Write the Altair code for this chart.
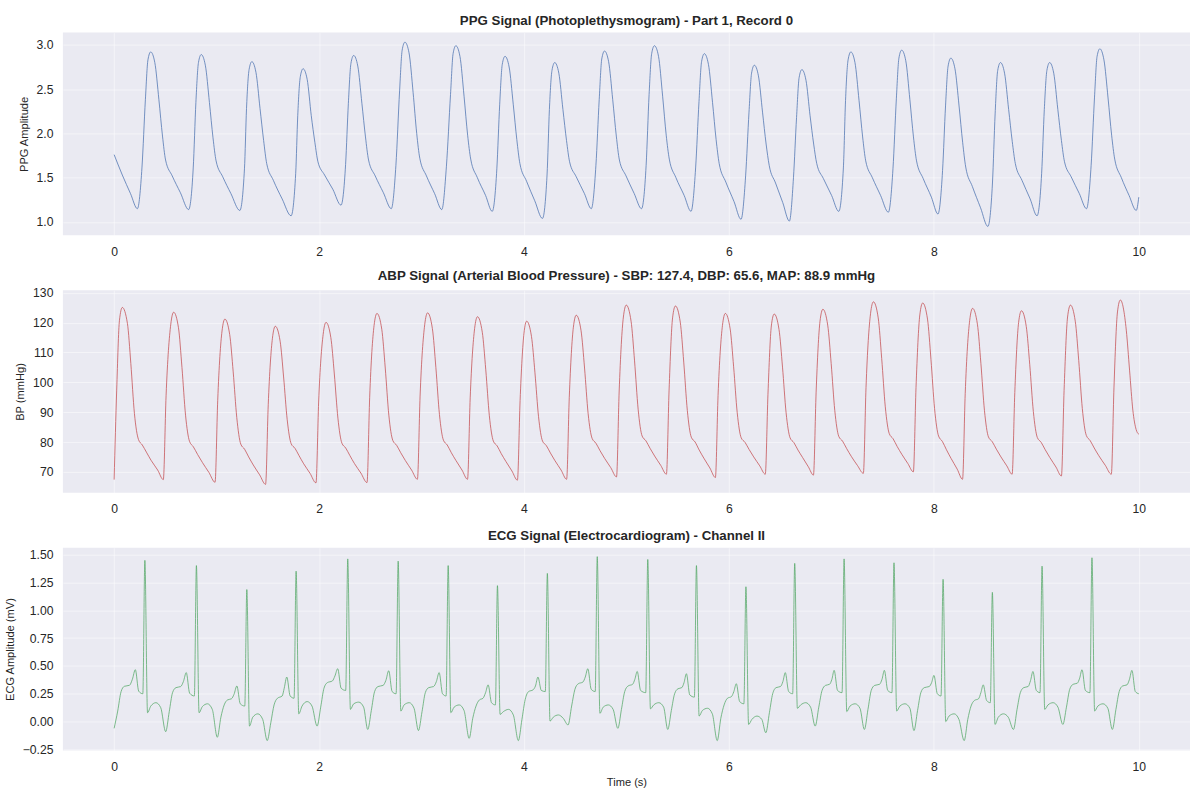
import altair as alt
import pandas as pd

# ---- PPG waveform (time s, amplitude) ----
PPG_POINTS = [
    (0.000, 1.76), (0.080, 1.53), (0.160, 1.32), (0.227, 1.15),
    (0.272, 1.62), (0.305, 2.38), (0.330, 2.83), (0.357, 2.92), (0.397, 2.80), (0.437, 2.38), (0.472, 1.97), (0.502, 1.70), (0.567, 1.52), (0.647, 1.33), (0.727, 1.14),
    (0.772, 1.61), (0.798, 2.35), (0.823, 2.80), (0.850, 2.89), (0.890, 2.77), (0.930, 2.35), (0.965, 1.95), (0.995, 1.69), (1.060, 1.51), (1.140, 1.32), (1.227, 1.13),
    (1.272, 1.60), (1.292, 2.28), (1.317, 2.72), (1.344, 2.81), (1.384, 2.69), (1.424, 2.28), (1.459, 1.92), (1.489, 1.66), (1.554, 1.47), (1.640, 1.26), (1.727, 1.07),
    (1.772, 1.55), (1.792, 2.20), (1.817, 2.64), (1.844, 2.73), (1.884, 2.61), (1.924, 2.20), (1.959, 1.90), (1.989, 1.68), (2.054, 1.53), (2.134, 1.37), (2.214, 1.19),
    (2.259, 1.65), (2.286, 2.34), (2.311, 2.79), (2.338, 2.88), (2.378, 2.76), (2.418, 2.34), (2.453, 1.96), (2.483, 1.70), (2.548, 1.52), (2.628, 1.33), (2.705, 1.15),
    (2.750, 1.64), (2.786, 2.48), (2.811, 2.94), (2.838, 3.03), (2.878, 2.91), (2.918, 2.46), (2.953, 2.00), (2.983, 1.72), (3.048, 1.52), (3.128, 1.32), (3.198, 1.14),
    (3.243, 1.63), (3.283, 2.44), (3.308, 2.90), (3.335, 2.99), (3.375, 2.87), (3.415, 2.42), (3.450, 1.98), (3.480, 1.71), (3.545, 1.50), (3.625, 1.30), (3.690, 1.12),
    (3.735, 1.60), (3.763, 2.33), (3.788, 2.78), (3.815, 2.87), (3.855, 2.75), (3.895, 2.33), (3.930, 1.93), (3.960, 1.66), (4.025, 1.46), (4.105, 1.24), (4.180, 1.04),
    (4.225, 1.53), (4.248, 2.27), (4.273, 2.71), (4.300, 2.80), (4.340, 2.68), (4.380, 2.27), (4.415, 1.92), (4.445, 1.68), (4.510, 1.51), (4.590, 1.32), (4.657, 1.15),
    (4.702, 1.64), (4.734, 2.38), (4.759, 2.84), (4.786, 2.93), (4.826, 2.81), (4.866, 2.38), (4.901, 1.97), (4.931, 1.70), (4.996, 1.52), (5.076, 1.32), (5.147, 1.15),
    (5.192, 1.64), (5.221, 2.44), (5.246, 2.90), (5.273, 2.99), (5.313, 2.87), (5.353, 2.42), (5.388, 1.98), (5.418, 1.71), (5.483, 1.50), (5.563, 1.30), (5.630, 1.12),
    (5.675, 1.61), (5.708, 2.36), (5.733, 2.81), (5.760, 2.90), (5.800, 2.78), (5.840, 2.35), (5.875, 1.93), (5.905, 1.66), (5.970, 1.45), (6.050, 1.23), (6.118, 1.03),
    (6.163, 1.52), (6.196, 2.24), (6.221, 2.68), (6.248, 2.77), (6.288, 2.65), (6.328, 2.24), (6.363, 1.88), (6.393, 1.64), (6.455, 1.44), (6.525, 1.22), (6.590, 1.01),
    (6.630, 1.50), (6.660, 2.18), (6.685, 2.63), (6.712, 2.72), (6.752, 2.60), (6.792, 2.20), (6.827, 1.88), (6.857, 1.66), (6.922, 1.49), (7.002, 1.30), (7.072, 1.12),
    (7.117, 1.61), (7.138, 2.37), (7.163, 2.83), (7.190, 2.92), (7.230, 2.80), (7.270, 2.37), (7.305, 1.96), (7.335, 1.69), (7.400, 1.50), (7.480, 1.30), (7.556, 1.11),
    (7.601, 1.60), (7.634, 2.39), (7.659, 2.85), (7.686, 2.94), (7.726, 2.82), (7.766, 2.38), (7.801, 1.96), (7.831, 1.69), (7.896, 1.49), (7.976, 1.28), (8.040, 1.09),
    (8.085, 1.58), (8.114, 2.31), (8.139, 2.76), (8.166, 2.85), (8.206, 2.73), (8.246, 2.31), (8.281, 1.90), (8.311, 1.62), (8.376, 1.40), (8.456, 1.16), (8.527, 0.95),
    (8.572, 1.44), (8.598, 2.22), (8.623, 2.71), (8.650, 2.80), (8.690, 2.68), (8.730, 2.27), (8.765, 1.91), (8.795, 1.66), (8.860, 1.47), (8.940, 1.26), (9.007, 1.07),
    (9.052, 1.55), (9.078, 2.27), (9.103, 2.71), (9.130, 2.80), (9.170, 2.68), (9.210, 2.27), (9.245, 1.92), (9.275, 1.68), (9.340, 1.51), (9.420, 1.32), (9.490, 1.15),
    (9.535, 1.64), (9.568, 2.41), (9.593, 2.87), (9.620, 2.955), (9.660, 2.83), (9.700, 2.40), (9.735, 1.98), (9.765, 1.71), (9.830, 1.50), (9.905, 1.30), (9.975, 1.13),
    (10.000, 1.28),
]

# ---- Arterial blood pressure (time s, mmHg) ----
ABP_POINTS = [
    (0.000, 67.4), (0.025, 97.4), (0.052, 120.8), (0.080, 125.1), (0.130, 119.7), (0.163, 106.3), (0.198, 89.6), (0.238, 80.8), (0.275, 79.0), (0.315, 76.6), (0.360, 73.9), (0.425, 70.6), (0.480, 67.4),
    (0.507, 95.5), (0.553, 119.5), (0.581, 123.5), (0.628, 118.3), (0.662, 105.0), (0.697, 89.0), (0.736, 80.2), (0.773, 78.4), (0.815, 75.8), (0.862, 73.1), (0.925, 69.8), (0.985, 66.5),
    (1.011, 94.0), (1.053, 117.2), (1.081, 121.2), (1.128, 116.0), (1.162, 103.5), (1.197, 88.2), (1.236, 79.3), (1.273, 77.6), (1.313, 75.0), (1.358, 72.3), (1.420, 69.0), (1.478, 65.8),
    (1.504, 92.5), (1.545, 114.8), (1.573, 118.8), (1.620, 113.8), (1.654, 101.8), (1.689, 87.5), (1.728, 79.4), (1.765, 77.9), (1.805, 75.4), (1.850, 72.7), (1.912, 69.5), (1.970, 66.3),
    (1.996, 93.4), (2.040, 116.1), (2.068, 120.1), (2.115, 115.0), (2.149, 102.8), (2.184, 88.0), (2.223, 79.6), (2.260, 78.0), (2.300, 75.5), (2.345, 72.8), (2.408, 69.6), (2.468, 66.4),
    (2.494, 95.0), (2.537, 119.1), (2.565, 123.1), (2.612, 117.8), (2.646, 104.8), (2.681, 89.0), (2.720, 80.5), (2.757, 78.9), (2.797, 76.4), (2.842, 73.8), (2.903, 70.6), (2.960, 67.5),
    (2.986, 95.4), (3.031, 119.3), (3.059, 123.3), (3.106, 118.0), (3.140, 105.0), (3.175, 89.2), (3.214, 80.6), (3.251, 79.0), (3.291, 76.4), (3.336, 73.8), (3.395, 70.6), (3.449, 67.5),
    (3.475, 94.8), (3.518, 118.0), (3.546, 122.0), (3.593, 116.8), (3.627, 104.2), (3.662, 88.8), (3.701, 80.3), (3.738, 78.7), (3.778, 76.1), (3.823, 73.5), (3.882, 70.3), (3.936, 67.2),
    (3.962, 93.9), (4.000, 116.5), (4.026, 120.5), (4.073, 115.4), (4.107, 103.2), (4.142, 88.5), (4.181, 80.3), (4.218, 78.8), (4.258, 76.3), (4.303, 73.7), (4.362, 70.6), (4.416, 67.5),
    (4.442, 95.0), (4.482, 118.5), (4.510, 122.5), (4.557, 117.3), (4.591, 104.8), (4.626, 89.5), (4.665, 81.2), (4.702, 79.6), (4.742, 77.1), (4.787, 74.5), (4.847, 71.4), (4.903, 68.3),
    (4.929, 97.1), (4.970, 121.9), (4.998, 125.9), (5.045, 120.5), (5.079, 107.2), (5.114, 91.0), (5.153, 82.0), (5.190, 80.4), (5.230, 77.9), (5.275, 75.3), (5.334, 72.2), (5.390, 69.2),
    (5.416, 97.4), (5.450, 121.6), (5.478, 125.6), (5.525, 120.2), (5.559, 106.8), (5.594, 90.6), (5.633, 81.6), (5.670, 80.0), (5.710, 77.3), (5.755, 74.6), (5.814, 71.3), (5.868, 68.1),
    (5.894, 95.6), (5.937, 119.1), (5.965, 123.1), (6.012, 117.9), (6.046, 105.2), (6.081, 89.8), (6.120, 81.4), (6.157, 79.9), (6.197, 77.5), (6.242, 75.0), (6.301, 72.0), (6.355, 69.2),
    (6.381, 96.0), (6.414, 118.9), (6.442, 122.9), (6.489, 117.7), (6.523, 105.1), (6.558, 89.8), (6.597, 81.4), (6.634, 79.8), (6.674, 77.3), (6.719, 74.8), (6.775, 71.7), (6.825, 68.9),
    (6.851, 96.7), (6.889, 120.5), (6.917, 124.5), (6.964, 119.2), (6.998, 106.3), (7.033, 90.6), (7.072, 81.9), (7.109, 80.3), (7.149, 77.8), (7.194, 75.2), (7.255, 72.1), (7.312, 69.5),
    (7.338, 98.3), (7.382, 123.0), (7.410, 127.0), (7.457, 121.6), (7.491, 108.0), (7.526, 91.8), (7.565, 82.8), (7.602, 81.1), (7.642, 78.5), (7.687, 75.9), (7.746, 72.8), (7.800, 70.0),
    (7.826, 98.3), (7.863, 122.6), (7.891, 126.6), (7.938, 121.2), (7.972, 107.6), (8.007, 91.2), (8.046, 82.0), (8.083, 80.2), (8.123, 77.4), (8.168, 74.5), (8.228, 70.9), (8.280, 67.5),
    (8.306, 96.2), (8.350, 120.8), (8.378, 124.8), (8.425, 119.5), (8.459, 106.4), (8.494, 90.5), (8.533, 81.7), (8.570, 80.1), (8.610, 77.6), (8.655, 75.0), (8.712, 72.0), (8.764, 69.2),
    (8.790, 96.6), (8.827, 120.0), (8.855, 124.0), (8.902, 118.7), (8.936, 105.9), (8.971, 90.2), (9.010, 81.5), (9.047, 79.9), (9.087, 77.4), (9.132, 74.8), (9.192, 71.6), (9.245, 68.6),
    (9.271, 97.3), (9.305, 121.9), (9.333, 125.9), (9.380, 120.5), (9.414, 107.3), (9.449, 91.2), (9.488, 82.2), (9.525, 80.5), (9.565, 78.0), (9.610, 75.4), (9.673, 72.2), (9.732, 69.2),
    (9.758, 98.4), (9.792, 123.6), (9.820, 127.6), (9.878, 117.5), (9.910, 104.1), (9.942, 90.7), (9.974, 84.2), (10.000, 82.6),
]

# ---- ECG lead II (time s, mV) ----
ECG_POINTS = [
    (0.000, -0.06), (0.035, 0.095), (0.068, 0.27), (0.100, 0.317), (0.150, 0.326), (0.178, 0.38), (0.207, 0.466), (0.240, 0.273), (0.280, 0.25), (0.300, 1.447), (0.326, 0.08), (0.358, 0.14), (0.408, 0.17), (0.455, 0.125), (0.503, -0.09),
    (0.538, 0.09), (0.570, 0.26), (0.603, 0.305), (0.650, 0.315), (0.676, 0.36), (0.704, 0.44), (0.737, 0.255), (0.783, 0.23), (0.803, 1.40), (0.829, 0.08), (0.861, 0.135), (0.911, 0.16), (0.958, 0.11), (1.007, -0.14),
    (1.042, 0.04), (1.074, 0.15), (1.107, 0.195), (1.145, 0.205), (1.170, 0.245), (1.198, 0.32), (1.231, 0.16), (1.275, 0.14), (1.295, 1.185), (1.321, -0.04), (1.353, 0.04), (1.403, 0.07), (1.450, 0.02), (1.494, -0.17),
    (1.529, -0.01), (1.561, 0.15), (1.594, 0.21), (1.640, 0.23), (1.660, 0.30), (1.685, 0.40), (1.718, 0.23), (1.756, 0.21), (1.776, 1.35), (1.802, 0.07), (1.834, 0.14), (1.884, 0.18), (1.931, 0.14), (1.981, -0.04),
    (2.016, 0.13), (2.048, 0.30), (2.081, 0.35), (2.130, 0.365), (2.155, 0.41), (2.182, 0.475), (2.215, 0.30), (2.260, 0.28), (2.280, 1.46), (2.306, 0.11), (2.338, 0.16), (2.388, 0.175), (2.435, 0.13), (2.475, -0.07),
    (2.510, 0.10), (2.542, 0.27), (2.575, 0.315), (2.625, 0.325), (2.652, 0.37), (2.680, 0.457), (2.713, 0.27), (2.752, 0.25), (2.772, 1.44), (2.798, 0.095), (2.830, 0.15), (2.880, 0.17), (2.927, 0.12), (2.970, -0.08),
    (3.005, 0.09), (3.037, 0.26), (3.070, 0.305), (3.118, 0.315), (3.145, 0.36), (3.172, 0.44), (3.205, 0.25), (3.240, 0.23), (3.260, 1.40), (3.286, 0.08), (3.318, 0.13), (3.368, 0.15), (3.415, 0.10), (3.465, -0.15),
    (3.500, 0.03), (3.532, 0.14), (3.565, 0.195), (3.600, 0.21), (3.625, 0.26), (3.650, 0.33), (3.683, 0.17), (3.721, 0.15), (3.741, 1.22), (3.767, 0.065), (3.799, 0.09), (3.849, 0.11), (3.896, 0.06), (3.945, -0.17),
    (3.980, 0.02), (4.012, 0.20), (4.045, 0.27), (4.088, 0.285), (4.112, 0.32), (4.136, 0.40), (4.169, 0.28), (4.208, 0.27), (4.228, 1.33), (4.254, 0.005), (4.286, 0.04), (4.336, 0.06), (4.383, 0.03), (4.430, -0.03),
    (4.465, 0.14), (4.497, 0.29), (4.530, 0.34), (4.575, 0.355), (4.598, 0.40), (4.623, 0.475), (4.656, 0.29), (4.695, 0.27), (4.715, 1.48), (4.741, 0.075), (4.773, 0.13), (4.823, 0.15), (4.870, 0.11), (4.916, -0.06),
    (4.951, 0.11), (4.983, 0.27), (5.016, 0.32), (5.060, 0.335), (5.082, 0.38), (5.105, 0.45), (5.138, 0.28), (5.188, 0.26), (5.208, 1.455), (5.234, 0.115), (5.266, 0.15), (5.316, 0.17), (5.363, 0.13), (5.403, -0.07),
    (5.438, 0.10), (5.470, 0.25), (5.503, 0.295), (5.540, 0.305), (5.562, 0.35), (5.585, 0.43), (5.618, 0.24), (5.663, 0.22), (5.683, 1.40), (5.709, 0.05), (5.741, 0.10), (5.791, 0.12), (5.838, 0.07), (5.886, -0.17),
    (5.921, 0.03), (5.953, 0.15), (5.986, 0.21), (6.025, 0.225), (6.048, 0.27), (6.072, 0.34), (6.105, 0.18), (6.146, 0.16), (6.166, 1.21), (6.192, -0.025), (6.224, 0.02), (6.274, 0.05), (6.321, 0.02), (6.360, -0.10),
    (6.395, 0.08), (6.427, 0.25), (6.460, 0.305), (6.503, 0.315), (6.527, 0.36), (6.550, 0.44), (6.583, 0.27), (6.622, 0.25), (6.642, 1.42), (6.668, 0.12), (6.700, 0.15), (6.750, 0.17), (6.797, 0.13), (6.842, -0.04),
    (6.877, 0.13), (6.909, 0.28), (6.942, 0.325), (6.982, 0.335), (7.005, 0.38), (7.027, 0.46), (7.060, 0.28), (7.104, 0.26), (7.124, 1.46), (7.150, 0.09), (7.182, 0.14), (7.232, 0.16), (7.279, 0.12), (7.322, -0.07),
    (7.357, 0.11), (7.389, 0.28), (7.422, 0.325), (7.470, 0.335), (7.494, 0.38), (7.517, 0.46), (7.550, 0.28), (7.591, 0.26), (7.611, 1.425), (7.637, 0.095), (7.669, 0.14), (7.719, 0.16), (7.766, 0.12), (7.806, -0.08),
    (7.841, 0.10), (7.873, 0.26), (7.906, 0.305), (7.955, 0.315), (7.978, 0.35), (8.001, 0.415), (8.034, 0.25), (8.070, 0.23), (8.090, 1.277), (8.116, 0.0), (8.148, 0.05), (8.198, 0.07), (8.245, 0.02), (8.296, -0.17),
    (8.331, 0.02), (8.363, 0.14), (8.396, 0.19), (8.436, 0.205), (8.459, 0.26), (8.482, 0.33), (8.515, 0.19), (8.551, 0.17), (8.571, 1.16), (8.597, -0.025), (8.629, 0.04), (8.679, 0.07), (8.726, 0.04), (8.777, -0.07),
    (8.812, 0.11), (8.844, 0.26), (8.877, 0.305), (8.920, 0.315), (8.944, 0.37), (8.967, 0.45), (9.000, 0.28), (9.036, 0.26), (9.056, 1.395), (9.082, 0.11), (9.114, 0.15), (9.164, 0.17), (9.211, 0.13), (9.259, -0.025),
    (9.294, 0.13), (9.326, 0.29), (9.359, 0.335), (9.400, 0.345), (9.423, 0.39), (9.446, 0.466), (9.479, 0.28), (9.523, 0.26), (9.543, 1.47), (9.569, 0.095), (9.601, 0.14), (9.651, 0.16), (9.698, 0.12), (9.742, -0.07),
    (9.777, 0.11), (9.809, 0.27), (9.842, 0.32), (9.885, 0.33), (9.909, 0.38), (9.933, 0.46), (9.966, 0.27), (10.000, 0.25),
]

X_TICKS = [0, 2, 4, 6, 8, 10]
PPG_TICKS = [1.0, 1.5, 2.0, 2.5, 3.0]
ABP_TICKS = [70, 80, 90, 100, 110, 120, 130]
ECG_TICKS = [-0.25, 0.0, 0.25, 0.5, 0.75, 1.0, 1.25, 1.5]

FONT = "Liberation Sans"
PANEL_W = 1129
PANEL_H = 203


def to_frame(points):
    return pd.DataFrame(points, columns=["t", "v"])


def panel(points, color, title, y_domain, y_ticks, y_fmt, y_title, x_title=None):
    x_axis = alt.Axis(values=X_TICKS, format="d", grid=True, titlePadding=4)
    return (
        alt.Chart(to_frame(points), title=alt.TitleParams(title))
        .mark_line(color=color, strokeWidth=0.85, opacity=0.9, interpolate="monotone")
        .encode(
            x=alt.X("t:Q", title=x_title,
                    scale=alt.Scale(domain=[-0.5, 10.5], nice=False, zero=False),
                    axis=x_axis),
            y=alt.Y("v:Q", title=y_title,
                    scale=alt.Scale(domain=y_domain, nice=False, zero=False),
                    axis=alt.Axis(values=y_ticks, format=y_fmt, titlePadding=7)),
        )
        .properties(width=PANEL_W, height=PANEL_H)
    )


ppg = panel(PPG_POINTS, "#4C72B0",
            "PPG Signal (Photoplethysmogram) - Part 1, Record 0",
            [0.85, 3.138], PPG_TICKS, ".1f", "PPG Amplitude")
abp = panel(ABP_POINTS, "#C44E52",
            "ABP Signal (Arterial Blood Pressure) - SBP: 127.4, DBP: 65.6, MAP: 88.9 mmHg",
            [62.96, 130.9], ABP_TICKS, "d", "BP (mmHg)")
ecg = panel(ECG_POINTS, "#55A868",
            "ECG Signal (Electrocardiogram) - Channel II",
            [-0.258, 1.56], ECG_TICKS, ".2f", "ECG Amplitude (mV)", x_title="Time (s)")

upper = alt.vconcat(ppg, abp, spacing=10)

chart = (
    alt.vconcat(upper, ecg, spacing=13)
    .properties(padding={"left": 4, "top": 13, "right": 10, "bottom": 2})
    .configure(background="white")
    .configure_view(fill="#EAEAF2", strokeWidth=0)
    .configure_axis(
        domain=False,
        ticks=False,
        labelFont=FONT,
        labelFontSize=12.2,
        labelColor="#262626",
        labelPadding=10,
        titleFont=FONT,
        titleFontSize=11.1,
        titleFontWeight="normal",
        titleColor="#262626",
        gridColor="#FFFFFF",
        gridWidth=1,
        gridOpacity=0.5,
    )
    .configure_title(
        font=FONT,
        fontSize=13.3,
        fontWeight="bold",
        color="#262626",
        anchor="middle",
        baseline="alphabetic",
        offset=5,
    )
)

chart.save("out.html", embed_options={"renderer": "svg", "actions": False})
